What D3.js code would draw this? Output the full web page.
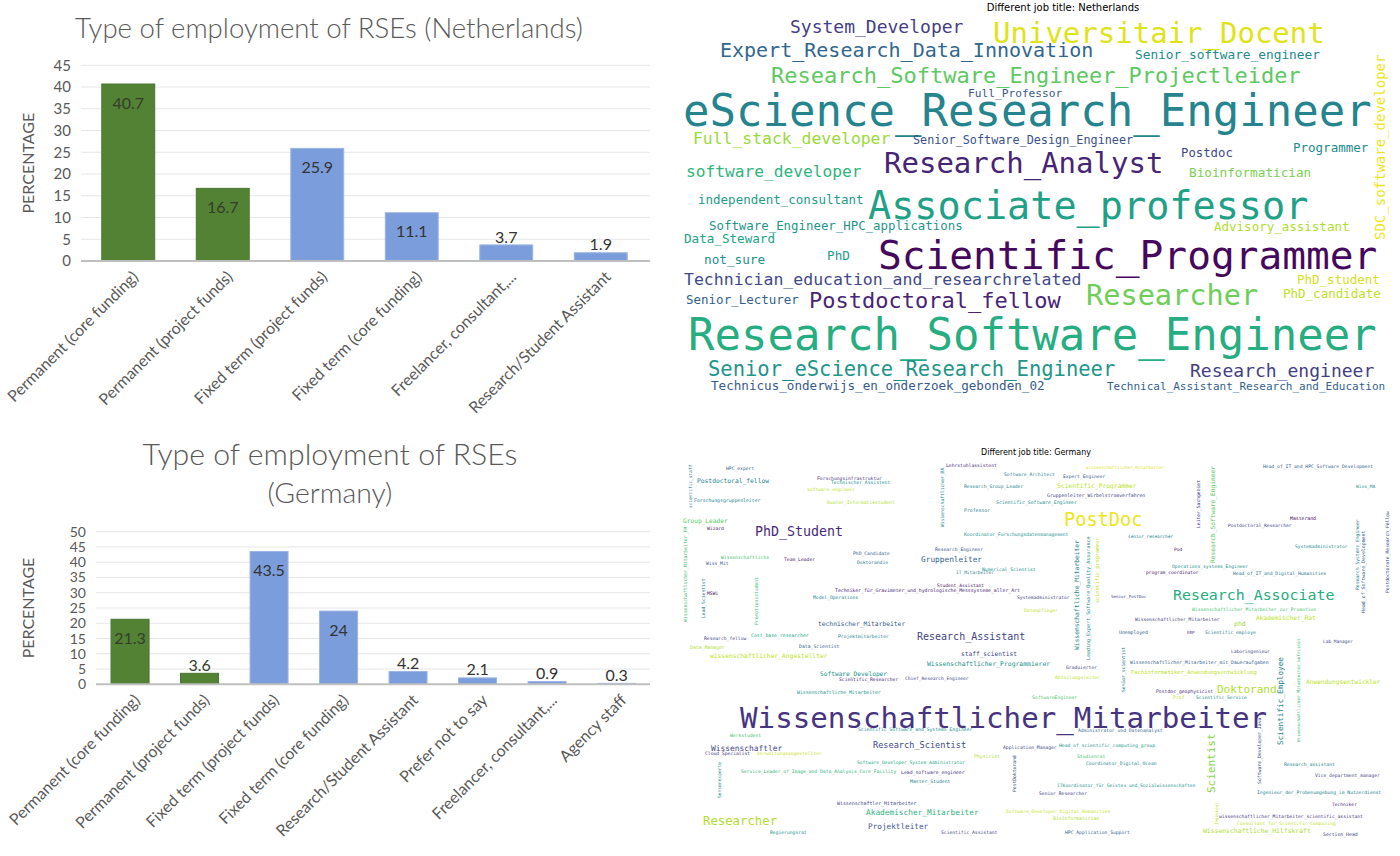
<!DOCTYPE html>
<html><head><meta charset="utf-8">
<script src="https://cdn.jsdelivr.net/npm/d3@7"></script>
<style>body{margin:0;background:#fff} svg{display:block}</style>
</head><body>
<svg id="c" width="1400" height="856"></svg>
<script>
// ---------- DATA ----------
const nlCategories = ["Permanent (core funding)","Permanent (project funds)","Fixed term (project funds)","Fixed term (core funding)","Freelancer, consultant,...","Research/Student Assistant"];
const nlValues = [40.7,16.7,25.9,11.1,3.7,1.9];
const nlKinds = ["permanent","permanent","other","other","other","other"];
const nlTicks = [0,5,10,15,20,25,30,35,40,45];

const deCategories = ["Permanent (core funding)","Permanent (project funds)","Fixed term (project funds)","Fixed term (core funding)","Research/Student Assistant","Prefer not to say","Freelancer, consultant,...","Agency staff"];
const deValues = [21.3,3.6,43.5,24,4.2,2.1,0.9,0.3];
const deKinds = ["permanent","permanent","other","other","other","other","other","other"];
const deTicks = [0,5,10,15,20,25,30,35,40,45,50];

// word cloud data: [word, relative frequency]
const nlWords = [
 ["System_Developer",18],["Universitair_Docent",29],["Expert_Research_Data_Innovation",20],["Senior_software_engineer",12.8],
 ["Research_Software_Engineer_Projectleider",22],["Full_Professor",11.2],["eScience_Research_Engineer",44],["SDC_software_developer",14],
 ["Full_stack_developer",16.4],["Senior_Software_Design_Engineer",11.8],["Programmer",12.5],["Postdoc",12.3],
 ["Research_Analyst",29],["software_developer",16.2],["Bioinformatician",12.7],["independent_consultant",12.5],
 ["Associate_professor",38.5],["Software_Engineer_HPC_applications",12.4],["Advisory_assistant",12.5],["Data_Steward",12.6],
 ["not_sure",12.7],["PhD",12.7],["Scientific_Programmer",39.5],["Technician_education_and_researchrelated",16.5],
 ["PhD_student",12.5],["Senior_Lecturer",12.5],["Postdoctoral_fellow",22],["Researcher",28.6],
 ["PhD_candidate",12.5],["Research_Software_Engineer",44],["Senior_eScience_Research_Engineer",20.5],["Research_engineer",18],
 ["Technicus_onderwijs_en_onderzoek_gebonden_02",12.6],["Technical_Assistant_Research_and_Education",11]
];
const deWords = [
 ["HPC_expert",4.7],["Postdoctoral_fellow",6.3],["scientific_staff",4.5],["Forschungsgruppenleiter",4.8],
 ["Forschungsinfrastruktur",4.7],["Technischer_Assistent",4.7],["software_engineer",4.7],["Dualer_Informatikstudent",4.7],
 ["Group_Leader",6.2],["Wizard",4.7],["PhD_Student",13.3],["Wissenschaftlicher_Mitarbeiter_FH",4.8],
 ["Wissenschaftliche",4.7],["Wiss_Mit",4.7],["Team_Leader",4.7],["PhD_Candidate",4.7],
 ["Doktorandin",4.7],["Lead_Scientist",4.7],["Promotionsstudent",4.7],["MSWi",4.7],
 ["Techniker_für_Gravimeter_und_hydrologische_Messsysteme_aller_Art",4.8],["Model_Operations",4.7],["technischer_Mitarbeiter",6.3],["Research_fellow",4.7],
 ["Cost_base_researcher",4.8],["Projektmitarbeiter",4.7],["Research_Assistant",10],["Lehrstuhlassistent",4.7],
 ["Software_Architect",4.7],["Expert_Engineer",4.7],["wissenschaftlicher_Mitarbeiter",4.3],["Wissenschaftlicher_BA",4.7],
 ["Research_Group_Leader",4.7],["Scientific_Programmer",6.3],["Gruppenleiter_Wirbelstromverfahren",4.8],["Scientific_Software_Engineer",4.8],
 ["Professor",4.8],["PostDoc",18.6],["Koordinator_Forschungsdatenmanagement",4.7],["senior_researcher",4.4],
 ["Research_Engineer",4.7],["Gruppenleiter",7.8],["Numerical_Scientist",4.7],["IT_Mitarbeiter",4.5],
 ["Student_Assistant",4.6],["Systemadministrator",4.6],["Datenpfleger",4.7],["Wissenschaftliche_Mitarbeiter",6.3],
 ["Leading_Expert_Software_Quality_Assurance",5],["scientific_programmer",5.2],["program_coordinator",4.6],["Senior_PostDoc",4.2],
 ["Wissenschaftlicher_Mitarbeiter",4.7],["Unemployed",4.8],["Head_of_IT_and_HPC_Software_Development",4.7],["Leiter_Sachgebiet",4.7],
 ["Research_Software_Engineer",6.2],["Wiss_MA",4.6],["Masterand",4.8],["Postdoctoral_Researcher",4.6],
 ["Pod",4.5],["Systemadministrator",4.6],["Postdoctorate_Research_Fellow",4.7],["Research_Systems_Engineer",4.7],
 ["Head_of_Software_Development",4.9],["Operations_systems_Engineer",4.7],["Head_of_IT_and_Digital_Humanities",4.7],["Research_Associate",14.9],
 ["Wissenschaftlicher_Mitarbeiter_zur_Promotion",4.7],["Akademischer_Rat",6.2],["phd",6.5],["ERP",4.2],
 ["Scientific_employe",4.7],["Data_Manager",4.8],["Data_Scientist",4.8],["wissenschaftlicher_Angestellter",6.3],
 ["Software_Developer",6.2],["Scientific_Researcher",4.7],["Chief_Research_Engineer",4.6],["Wissenschaftliche_Mitarbeiter",4.8],
 ["Wissenschaftlicher_Mitarbeiter",29.2],["Scientific_Software_and_Systems_Engineer",4.75],["Werkstudent",4.7],["Wissenschaftler",7.9],
 ["Cloud_Specialist",4.7],["Verwaltungsangestellter",4.7],["Research_Scientist",8.6],["Sensorexperte",4.6],
 ["Service_Leader_of_Image_and_Data_Analysis_Core_Facility",4.7],["Software_Developer_System_Administrator",4.6],["Lead_software_engineer",4.8],["Master_Student",4.8],
 ["Wissenschaftler_Mitarbeiter",4.9],["Researcher",12.3],["Akademischer_Mitarbeiter",7.8],["Projektleiter",7.7],
 ["Regierungsrat",4.7],["staff_scientist",6.2],["Wissenschaftlicher_Programmierer",6.4],["Graduierter",4.7],
 ["Abteilungsleiter",4.7],["Senior_scientist",4.7],["Wissenschaftlicher_Mitarbeiter_mit_Daueraufgaben",4.8],["Fachinformatiker_Anwendungsentwicklung",5.5],
 ["SoftwareEngineer",4.7],["Postdoc_geophysicist",4.75],["Administrator_und_Datenanalyst",4.7],["Application_Manager",4.7],
 ["Head_of_scientific_computing_group",4.7],["Physicist",4.8],["PostDoktorand",4.7],["Studienrat",4.7],
 ["Coordinator_Digital_Ocean",4.7],["ITKoordinator_für_Geistes_und_Sozialwissenschaften",4.6],["Senior_Researcher",4.7],["Software_Developer_Digital_Humanities",4.7],
 ["Bioinformatician",4.8],["Scientific_Assistant",4.7],["HPC_Application_Support",4.7],["Lab_Manager",4.5],
 ["Laboringenieur",4.6],["Doktorand",11],["Scientific_Employee",7.7],["Wissenschaftlicher_Mitarbeiter_befristet",4.3],
 ["Anwendungsentwickler",6.2],["Prof",4.8],["Scientific_Service",4.7],["Software_Developer_Java",4.8],
 ["Scientist",11],["Research_assistant",4.7],["Vice_department_manager",4.7],["Ingenieur_der_Probenumgebung_im_Nutzerdienst",4.7],
 ["Techniker",4.6],["wissenschaftlicher_Mitarbeiter_scientific_assistant",4.7],["Consultant_for_Scientific_Computing",4.7],["Wissenschaftliche_Hilfskraft",6.4],
 ["Section_Head",4.8],["Ingenieur",4.2]
];

// ---------- LAYOUT (cloud placement: local x, local y, rotation, viridis tone) ----------
const nlPlacement = [
 [112,27,0,.18],[315,33,0,.95],[42,50,0,.33],[457,54,0,.48],
 [93,75,0,.75],[290,93,0,.27],[5,110,0,.45],[702,240,-90,.97],
 [15,138,0,.85],[235,140,0,.25],[615,147,0,.48],[503,153,0,.22],
 [206,163,0,.1],[8,171,0,.65],[511,172,0,.8],[20,199,0,.55],
 [190,205,0,.57],[31,226,0,.52],[536,226,0,.88],[6,238,0,.58],
 [26,259,0,.5],[149,255,0,.55],[200,255,0,.02],[6,279,0,.22],
 [619,279,0,.93],[8,299,0,.3],[131,300,0,.1],[408,295,0,.78],
 [605,293,0,.9],[10,334,0,.62],[30,369,0,.52],[512,371,0,.18],
 [33,385,0,.28],[429,386,0,.3]
];
const dePlacement = [
 [48,28,0,.3],[19,41,0,.45],[12,68,-90,.4],[16,60,0,.45],
 [139,38,0,.15],[153,42,0,.5],[129,49,0,.9],[149,62,0,.88],
 [5,81,0,.75],[29,88,0,.05],[77,91,0,.12],[7,182,-90,.7],
 [43,117,0,.7],[28,123,0,.25],[106,119,0,.1],[175,113,0,.3],
 [179,122,0,.4],[25,178,-90,.45],[78,185,-90,.7],[29,153,0,.05],
 [157,150,0,.1],[135,157,0,.45],[140,184,0,.28],[26,198,0,.2],
 [73,195,0,.6],[160,196,0,.45],[239,196,0,.2],[268,25,0,.12],
 [326,34,0,.45],[385,36,0,.3],[408,27,0,.95],[264,87,-90,.5],
 [286,46,0,.45],[379,46,0,.9],[369,55,0,.2],[318,62,0,.5],
 [286,70,0,.4],[386,79,0,.97],[286,94,0,.5],[450,96,0,.45],
 [257,109,0,.25],[243,119,0,.3],[304,129,0,.5],[278,132,0,.4],
 [259,145,0,.05],[339,157,0,.2],[346,170,0,.9],[399,210,-90,.45],
 [410,220,-90,.5],[419,163,-90,.9],[468,132,0,.05],[433,156,0,.2],
 [457,179,0,.18],[441,192,0,.3],[585,26,0,.3],[520,88,-90,.2],
 [535,123,-90,.75],[678,46,0,.5],[612,78,0,.02],[550,85,0,.2],
 [496,109,0,.05],[617,106,0,.5],[709,153,-90,.25],[679,150,-90,.45],
 [685,173,-90,.3],[494,126,0,.5],[555,133,0,.4],[495,155,0,.62],
 [514,169,0,.7],[578,178,0,.9],[556,184,0,.85],[509,192,0,.1],
 [527,192,0,.45],[12,207,0,.88],[121,206,0,.3],[32,216,0,.9],
 [142,234,0,.5],[161,239,0,.1],[227,238,0,.2],[119,252,0,.5],
 [62,277,0,.15],[180,289,0,.5],[52,295,0,.7],[33,308,0,.2],
 [27,313,0,.15],[79,313,0,.92],[195,305,0,.22],[41,358,-90,.5],
 [63,331,0,.65],[179,322,0,.6],[223,332,0,.15],[232,341,0,.45],
 [159,363,0,.2],[25,381,0,.88],[188,372,0,.65],[190,386,0,.25],
 [92,392,0,.5],[283,214,0,.2],[249,224,0,.5],[388,227,0,.2],
 [377,237,0,.9],[445,252,-90,.4],[452,222,0,.3],[453,232,0,.9],
 [354,257,0,.72],[478,251,0,.12],[400,290,0,.3],[325,307,0,.2],
 [381,305,0,.5],[296,316,0,.88],[336,352,-90,.25],[399,316,0,.7],
 [408,323,0,.45],[379,345,0,.5],[361,353,0,.2],[328,371,0,.92],
 [375,378,0,.88],[263,392,0,.2],[387,392,0,.3],[645,201,0,.2],
 [553,211,0,.2],[539,249,0,.88],[602,305,-90,.45],[620,302,-90,.65],
 [628,242,0,.9],[495,257,0,.9],[518,257,0,.5],[581,344,-90,.25],
 [533,353,-90,.82],[606,324,0,.45],[637,335,0,.2],[579,352,0,.45],
 [654,364,0,.1],[541,376,0,.15],[559,383,0,.9],[525,391,0,.88],
 [645,394,0,.2],[538,385,-90,.9]
];

// ---------- DRAW ----------
const svg = d3.select("#c");
const uiFont = "Lato, 'Open Sans', sans-serif";
const grey = "#595959";
const kindColor = d3.scaleOrdinal().domain(["permanent","other"]).range(["#548235","#7c9ddb"]);
const kindStroke = d3.scaleOrdinal().domain(["permanent","other"]).range(["#4a7530","#9cb5e4"]);

function fitText(sel, target) {
  const n = sel.node();
  const w = n.getComputedTextLength();
  const fs = parseFloat(sel.style("font-size"));
  sel.style("font-size", (fs * target / w) + "px");
}

function barChart(o) {
  const g = svg.append("g");
  const x = d3.scaleBand().domain(o.cats).range(o.xRange).paddingInner(o.padIn).paddingOuter(o.padOut);
  const y = d3.scaleLinear().domain([0, d3.max(o.ticks)]).range(o.yRange);
  // grid
  g.append("g").selectAll("line").data(o.ticks.slice(1)).join("line")
    .attr("x1", o.gridX[0]).attr("x2", o.gridX[1])
    .attr("y1", d => y(d)).attr("y2", d => y(d))
    .attr("stroke", "#e6e6e6").attr("stroke-width", 1);
  // y axis
  const ya = g.append("g").attr("transform", `translate(${o.gridX[0] - 6},0)`)
    .call(d3.axisLeft(y).tickValues(o.ticks).tickSize(0).tickPadding(4));
  ya.select(".domain").remove();
  ya.selectAll("text").style("font-family", uiFont).style("font-size", o.tickSize + "px").attr("fill", grey);
  // bars
  g.append("g").selectAll("rect").data(o.vals).join("rect")
    .attr("x", (d, i) => x(o.cats[i])).attr("width", x.bandwidth())
    .attr("y", d => y(d)).attr("height", d => y(0) - y(d))
    .attr("fill", (d, i) => kindColor(o.kinds[i]))
    .attr("stroke", (d, i) => kindStroke(o.kinds[i])).attr("stroke-width", 1);
  // baseline
  g.append("line").attr("x1", o.gridX[0]).attr("x2", o.gridX[1])
    .attr("y1", y(0)).attr("y2", y(0)).attr("stroke", "#bfbfbf").attr("stroke-width", 2);
  // value labels
  g.append("g").selectAll("text").data(o.vals).join("text")
    .attr("x", (d, i) => x(o.cats[i]) + x.bandwidth() / 2)
    .attr("y", d => (y(0) - y(d) > 30) ? y(d) + 19 : y(d) - 8)
    .attr("dy", "0.35em").attr("text-anchor", "middle")
    .style("font-family", uiFont).style("font-size", "16px")
    .attr("fill", (d, i) => o.kinds[i] === "permanent" ? "#333d2b" : "#333333")
    .text(d => d);
  // category labels
  g.append("g").selectAll("text").data(o.cats).join("text")
    .attr("transform", d => `translate(${x(d) + x.bandwidth() / 2 + 7},${y(0) + 13}) rotate(-45)`)
    .attr("text-anchor", "end").attr("dy", "0.35em")
    .style("font-family", uiFont).style("font-size", "16px").attr("fill", grey)
    .text(d => d);
  // y label
  g.append("text").attr("transform", `translate(${o.yLabelX},${(o.yRange[0] + o.yRange[1]) / 2}) rotate(-90)`)
    .attr("text-anchor", "middle").attr("dy", "0.35em")
    .style("font-family", uiFont).style("font-size", "16px").attr("fill", grey)
    .text("PERCENTAGE");
  // title
  o.title.forEach((t, i) => {
    const tt = g.append("text").attr("x", o.titleX).attr("y", o.titleY[i]).attr("text-anchor", "middle")
      .style("font-family", uiFont).style("font-weight", 300).style("font-size", "28px").attr("fill", grey)
      .text(t);
    fitText(tt, o.titleW[i]);
  });
}

barChart({cats: nlCategories, vals: nlValues, kinds: nlKinds, ticks: nlTicks, tickSize: 15,
  xRange: [81, 648], padIn: 0.44, padOut: 0.22, yRange: [261, 65.3], gridX: [81, 650],
  yLabelX: 28, title: ["Type of employment of RSEs (Netherlands)"], titleX: 329, titleY: [38], titleW: [508]});

barChart({cats: deCategories, vals: deValues, kinds: deKinds, ticks: deTicks, tickSize: 14,
  xRange: [95.3, 651.3], padIn: 0.453, padOut: 0.2265, yRange: [684.3, 531.7], gridX: [96, 650],
  yLabelX: 28, title: ["Type of employment of RSEs", "(Germany)"], titleX: 330, titleY: [465, 503], titleW: [375, 125]});

function cloud(words, place, box) {
  const xs = d3.scaleLinear().domain([0, box.w]).range([box.x, box.x + box.w]);
  const ys = d3.scaleLinear().domain([0, box.h]).range([box.y, box.y + box.h]);
  const fs = d3.scaleLinear().domain([0, 44]).range([0, 44]);
  const g = svg.append("g");
  g.selectAll("text").data(words.map((w, i) => ({w: w[0], f: w[1], p: place[i]}))).join("text")
    .attr("transform", d => `translate(${xs(d.p[0])},${ys(d.p[1])}) rotate(${d.p[2]})`)
    .attr("dy", "0.36em")
    .style("font-family", "'DejaVu Sans Mono', monospace")
    .style("font-size", d => fs(d.f) + "px")
    .attr("fill", d => d3.interpolateViridis(d.p[3]))
    .text(d => d.w);
  g.append("text").attr("x", box.titleX).attr("y", box.titleY).attr("text-anchor", "middle")
    .style("font-family", "'DejaVu Sans', sans-serif").style("font-size", box.titleSize + "px")
    .attr("fill", "#000").text(box.title);
}

cloud(nlWords, nlPlacement, {x: 678, y: 0, w: 722, h: 400, title: "Different job title: Netherlands", titleX: 1063, titleY: 11, titleSize: 10});
cloud(deWords, dePlacement, {x: 678, y: 440, w: 722, h: 416, title: "Different job title: Germany", titleX: 1036, titleY: 455, titleSize: 8});
</script>
</body></html>
